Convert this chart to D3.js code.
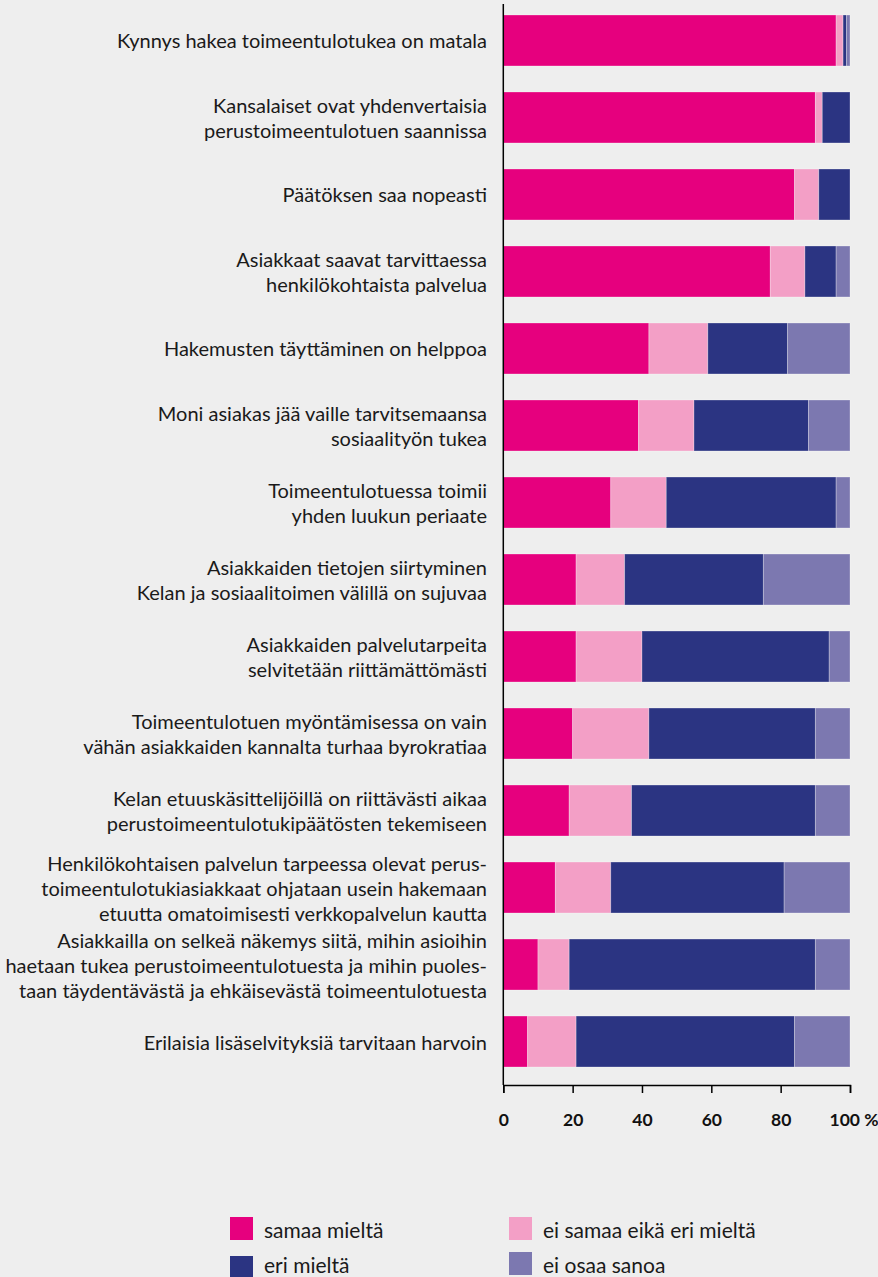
<!DOCTYPE html>
<html lang="fi">
<head>
<meta charset="utf-8">
<script src="https://cdn.jsdelivr.net/npm/d3@7"></script>
<style>
  html, body { margin: 0; padding: 0; background: #eeeeee; }
  svg { display: block; }
  .cat { font-family: Lato, "Open Sans", sans-serif; font-size: 20px; fill: #1a1a1a; }
  .tick text { font-family: Lato, "Open Sans", sans-serif; font-weight: 700; font-size: 17.5px; fill: #111; }
  .leg { font-family: Lato, "Open Sans", sans-serif; font-size: 21px; fill: #1a1a1a; }
</style>
</head>
<body>
<svg id="chart" width="878" height="1277"></svg>
<script>
// Statements (lines split as they are printed)
const categories = [
  ["Kynnys hakea toimeentulotukea on matala"],
  ["Kansalaiset ovat yhdenvertaisia", "perustoimeentulotuen saannissa"],
  ["Päätöksen saa nopeasti"],
  ["Asiakkaat saavat tarvittaessa", "henkilökohtaista palvelua"],
  ["Hakemusten täyttäminen on helppoa"],
  ["Moni asiakas jää vaille tarvitsemaansa", "sosiaalityön tukea"],
  ["Toimeentulotuessa toimii", "yhden luukun periaate"],
  ["Asiakkaiden tietojen siirtyminen", "Kelan ja sosiaalitoimen välillä on sujuvaa"],
  ["Asiakkaiden palvelutarpeita", "selvitetään riittämättömästi"],
  ["Toimeentulotuen myöntämisessa on vain", "vähän asiakkaiden kannalta turhaa byrokratiaa"],
  ["Kelan etuuskäsittelijöillä on riittävästi aikaa", "perustoimeentulotukipäätösten tekemiseen"],
  ["Henkilökohtaisen palvelun tarpeessa olevat perus-", "toimeentulotukiasiakkaat ohjataan usein hakemaan", "etuutta omatoimisesti verkkopalvelun kautta"],
  ["Asiakkailla on selkeä näkemys siitä, mihin asioihin", "haetaan tukea perustoimeentulotuesta ja mihin puoles-", "taan täydentävästä ja ehkäisevästä toimeentulotuesta"],
  ["Erilaisia lisäselvityksiä tarvitaan harvoin"]
];

// Shares of answers, % (same order as categories)
const samaaMielta    = [96, 90, 84, 77, 42, 39, 31, 21, 21, 20, 19, 15, 10, 7];
const eiSamaaEikaEri = [ 2,  2,  7, 10, 17, 16, 16, 14, 19, 22, 18, 16,  9, 14];
const eriMielta      = [ 1,  8,  9,  9, 23, 33, 49, 40, 54, 48, 53, 50, 71, 63];
const eiOsaaSanoa    = [ 1,  0,  0,  4, 18, 12,  4, 25,  6, 10, 10, 19, 10, 16];

const seriesNames  = ["samaa mieltä", "ei samaa eikä eri mieltä", "eri mieltä", "ei osaa sanoa"];
const seriesColors = ["#e6007e", "#f39fc6", "#2b3482", "#7c78b0"];
const xTicks = [0, 20, 40, 60, 80, 100];

const seriesKeys = ["s0", "s1", "s2", "s3"];
const table = categories.map((c, i) => ({
  id: i,
  s0: samaaMielta[i], s1: eiSamaaEikaEri[i], s2: eriMielta[i], s3: eiOsaaSanoa[i]
}));

const svg = d3.select("#chart");

const x0 = 503.3, x1 = 850;
const x = d3.scaleLinear().domain([0, 100]).range([x0, x1]);
const y = d3.scaleBand()
  .domain(table.map(d => d.id))
  .range([15, 1067])
  .paddingInner(0.338)
  .paddingOuter(0);

const stacked = d3.stack().keys(seriesKeys)(table);

// Bars
svg.append("g")
  .selectAll("g")
  .data(stacked)
  .join("g")
    .attr("fill", (d, i) => seriesColors[i])
  .selectAll("rect")
  .data(d => d)
  .join("rect")
    .attr("x", d => x(d[0]))
    .attr("y", d => y(d.data.id))
    .attr("width", d => Math.max(0, x(d[1]) - x(d[0])))
    .attr("height", y.bandwidth())
    .attr("stroke", "rgba(255,255,255,0.35)")
    .attr("stroke-width", 0.8);

// Category labels
const lineH = 25;
const labels = svg.append("g");
table.forEach((d, i) => {
  const lines = categories[i];
  const cy = y(d.id) + y.bandwidth() / 2;
  const t = labels.append("text")
    .attr("class", "cat")
    .attr("text-anchor", "end")
    .attr("x", 487)
    .attr("y", cy - (lines.length - 1) * lineH / 2)
    .attr("dominant-baseline", "central");
  lines.forEach((ln, k) => {
    t.append("tspan")
      .attr("x", 487)
      .attr("dy", k === 0 ? 0 : lineH)
      .text(ln);
  });
});

// Vertical base line
const axisY = 1085;
svg.append("line")
  .attr("x1", x(0)).attr("x2", x(0))
  .attr("y1", 4).attr("y2", axisY)
  .attr("stroke", "#000").attr("stroke-width", 1.5);

// X axis
const xAxis = svg.append("g")
  .attr("transform", `translate(0,${axisY})`)
  .call(d3.axisBottom(x).tickValues(xTicks).tickSize(8).tickPadding(21)
    .tickFormat(d => d === 100 ? "100 %" : String(d)));
xAxis.select(".domain").attr("stroke", "#000").attr("stroke-width", 1.5);
xAxis.selectAll(".tick line").attr("stroke", "#000").attr("stroke-width", 1.5);
xAxis.selectAll(".tick text")
  .filter(d => d === 100)
  .attr("text-anchor", "start")
  .attr("x", -21);

// Legend
const legendItems = [
  { i: 0, x: 230, y: 1217 },
  { i: 1, x: 509, y: 1217 },
  { i: 2, x: 230, y: 1256 },
  { i: 3, x: 509, y: 1252 }
];
const lg = svg.append("g");
legendItems.forEach(it => {
  lg.append("rect")
    .attr("x", it.x).attr("y", it.y)
    .attr("width", 23).attr("height", 23)
    .attr("fill", seriesColors[it.i]);
  lg.append("text")
    .attr("class", "leg")
    .attr("x", it.x + 34)
    .attr("y", Math.min(it.y + 12, 1264))
    .attr("dominant-baseline", "central")
    .text(seriesNames[it.i]);
});
</script>
</body>
</html>
